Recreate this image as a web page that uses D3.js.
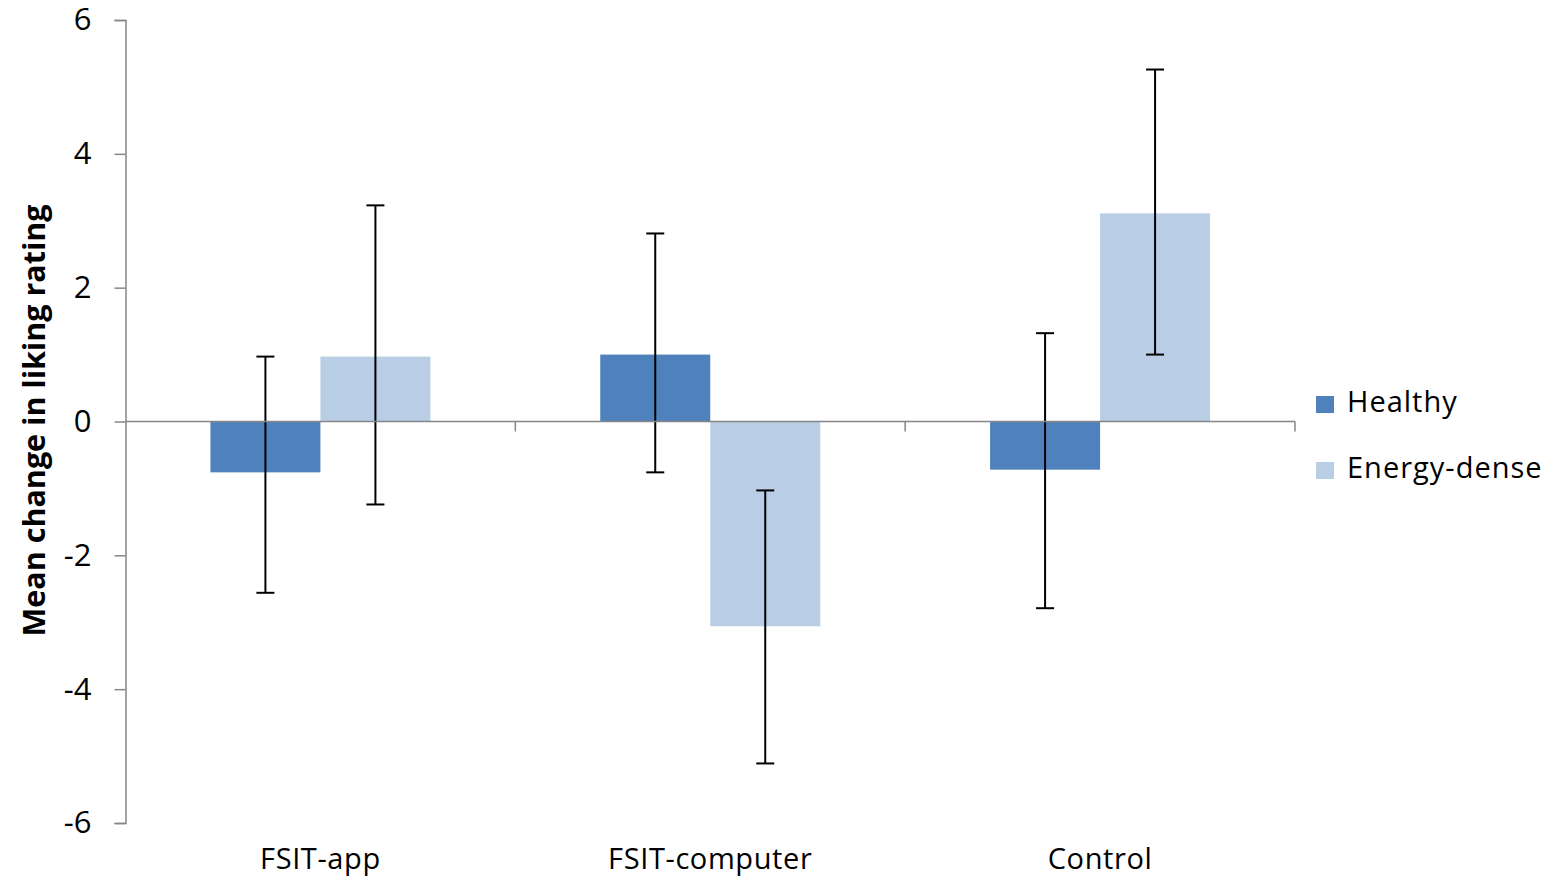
<!DOCTYPE html>
<html>
<head>
<meta charset="utf-8">
<script src="https://cdn.jsdelivr.net/npm/d3@7"></script>
<style>
  body { margin: 0; background: #fff; }
  svg { display: block; font-family: "Open Sans", sans-serif; }
</style>
</head>
<body>
<svg id="chart" width="1559" height="884"></svg>
<script>
// data
const categories = ['FSIT-app', 'FSIT-computer', 'Control'];
const seriesNames = ['Healthy', 'Energy-dense'];
const healthy = [-0.76, 1.0, -0.72];
const energyDense = [0.97, -3.06, 3.11];
const healthyErrLow = [-2.56, -0.76, -2.79];
const healthyErrHigh = [0.97, 2.81, 1.32];
const energyErrLow = [-1.24, -5.11, 1.0];
const energyErrHigh = [3.23, -1.03, 5.26];
const yTicks = [-6, -4, -2, 0, 2, 4, 6];

const colors = ['#4f81bd', '#b9cde5'];

const margin = { top: 20, right: 264, bottom: 61, left: 125.5 };
const width = 1559 - margin.left - margin.right;
const height = 884 - margin.top - margin.bottom;

const svg = d3.select('#chart')
    .append('g')
    .attr('transform', `translate(${margin.left}, ${margin.top})`);

const x0 = d3.scaleBand().domain(categories).range([0, width]).padding(0);
const x1 = d3.scaleBand().domain(seriesNames).range([0, x0.bandwidth()])
    .paddingInner(0).paddingOuter(0.772);
const y = d3.scaleLinear().domain([-6, 6]).range([height, 0]);

const rows = categories.map((c, i) => ({
    category: c,
    values: [
        { name: 'Healthy', value: healthy[i], lo: healthyErrLow[i], hi: healthyErrHigh[i] },
        { name: 'Energy-dense', value: energyDense[i], lo: energyErrLow[i], hi: energyErrHigh[i] },
    ],
}));

// y axis
const yAxis = svg.append('g')
    .call(d3.axisLeft(y).tickValues(yTicks).tickSize(11).tickPadding(23).tickFormat((d) => String(d)));
yAxis.select('.domain').attr('stroke', '#868686').attr('stroke-width', 1.5);
yAxis.selectAll('.tick line').attr('stroke', '#868686').attr('stroke-width', 1.5);
yAxis.selectAll('.tick text')
    .attr('font-family', '"Open Sans", sans-serif')
    .attr('font-size', 31)
    .attr('fill', '#000');

// bars
const groups = svg.selectAll('.group')
    .data(rows)
    .enter().append('g')
    .attr('class', 'group')
    .attr('transform', (d) => `translate(${x0(d.category)}, 0)`);

groups.selectAll('rect')
    .data((d) => d.values)
    .enter().append('rect')
    .attr('x', (d) => x1(d.name))
    .attr('width', x1.bandwidth())
    .attr('y', (d) => y(Math.max(0, d.value)))
    .attr('height', (d) => Math.abs(y(d.value) - y(0)))
    .attr('fill', (d, i) => colors[i]);

// x axis along zero, ticks at category boundaries
const xAxisG = svg.append('g').attr('transform', `translate(0, ${y(0)})`);
xAxisG.append('line')
    .attr('x1', 0).attr('x2', width)
    .attr('stroke', '#868686').attr('stroke-width', 1.5);
xAxisG.selectAll('.xtick')
    .data(categories)
    .enter().append('line')
    .attr('class', 'xtick')
    .attr('x1', (d) => x0(d) + x0.bandwidth())
    .attr('x2', (d) => x0(d) + x0.bandwidth())
    .attr('y1', 0).attr('y2', 10)
    .attr('stroke', '#868686').attr('stroke-width', 1.5);

// error bars
const capW = 9;
const err = groups.selectAll('.err')
    .data((d) => d.values)
    .enter().append('g')
    .attr('class', 'err')
    .attr('transform', (d) => `translate(${x1(d.name) + x1.bandwidth() / 2}, 0)`);
err.append('line')
    .attr('x1', 0).attr('x2', 0)
    .attr('y1', (d) => y(d.hi)).attr('y2', (d) => y(d.lo))
    .attr('stroke', '#000').attr('stroke-width', 2);
err.append('line')
    .attr('x1', -capW).attr('x2', capW)
    .attr('y1', (d) => y(d.hi)).attr('y2', (d) => y(d.hi))
    .attr('stroke', '#000').attr('stroke-width', 2);
err.append('line')
    .attr('x1', -capW).attr('x2', capW)
    .attr('y1', (d) => y(d.lo)).attr('y2', (d) => y(d.lo))
    .attr('stroke', '#000').attr('stroke-width', 2);

// category labels
svg.selectAll('.cat')
    .data(categories)
    .enter().append('text')
    .attr('class', 'cat')
    .attr('x', (d) => x0(d) + x0.bandwidth() / 2)
    .attr('y', height + 46)
    .attr('text-anchor', 'middle')
    .attr('font-size', 29)
    .attr('letter-spacing', 0.6)
    .attr('fill', '#000')
    .text((d) => d);

// y title
svg.append('text')
    .attr('transform', `translate(${-80.5}, ${y(0) - 1}) rotate(-90)`)
    .attr('text-anchor', 'middle')
    .attr('font-size', 30.5)
    .attr('font-weight', 'bold')
    .attr('fill', '#000')
    .text('Mean change in liking rating');

// legend
const legend = svg.append('g')
    .attr('transform', `translate(${width + 21}, ${y(0) - 9.5})`);
const li = legend.selectAll('.li')
    .data(seriesNames)
    .enter().append('g')
    .attr('transform', (d, i) => `translate(0, ${i * 66})`);
li.append('rect')
    .attr('x', 0).attr('y', -16)
    .attr('width', 18).attr('height', 17)
    .attr('fill', (d, i) => colors[i]);
li.append('text')
    .attr('x', 31).attr('y', 0)
    .attr('font-size', 29)
    .attr('letter-spacing', 1)
    .attr('fill', '#000')
    .text((d) => d);
</script>
</body>
</html>
